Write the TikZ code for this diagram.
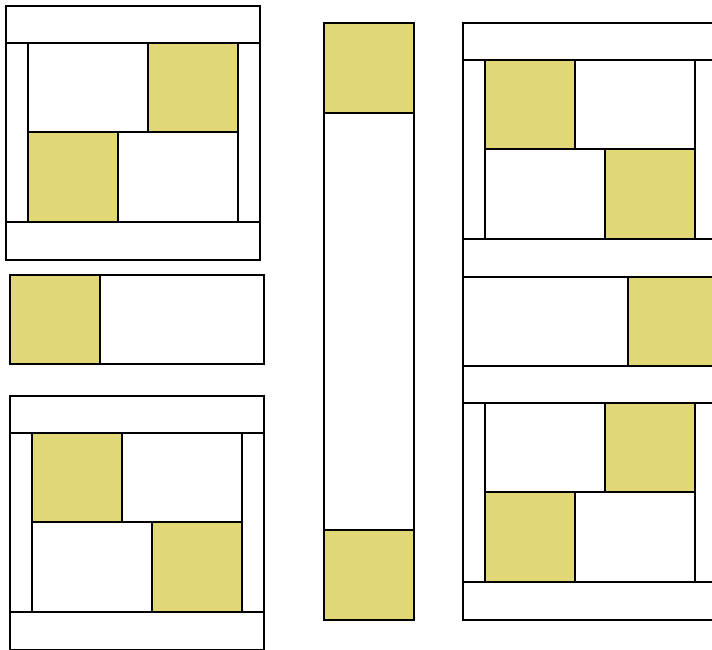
\documentclass[tikz,border=0pt]{standalone}
\usepackage{tikz}

\definecolor{quiltgold}{RGB}{226,215,118}

\begin{document}
\begin{tikzpicture}[
  x=0.02cm, y=-0.02cm,
  % Patch styles
  plain/.style={draw=black, fill=white, line width=1.3pt},
  gold/.style={draw=black, fill=quiltgold, line width=1.3pt},
  % Frame of a block: bars on top and bottom, narrow columns at the sides
  frame/.pic={
    \draw[plain] (0,0) rectangle (254,37);
    \draw[plain] (0,37) rectangle (22,216);
    \draw[plain] (232,37) rectangle (254,216);
    \draw[plain] (0,216) rectangle (254,254);
  },
  % Block with the gold squares on the falling diagonal
  blockfall/.pic={
    \pic {frame};
    \draw[gold]  (22,37)   rectangle (112,126);
    \draw[plain] (112,37)  rectangle (232,126);
    \draw[plain] (22,126)  rectangle (142,216);
    \draw[gold]  (142,126) rectangle (232,216);
  },
  % Block with the gold squares on the rising diagonal
  blockrise/.pic={
    \pic {frame};
    \draw[plain] (22,37)   rectangle (142,126);
    \draw[gold]  (142,37)  rectangle (232,126);
    \draw[gold]  (22,126)  rectangle (112,216);
    \draw[plain] (112,126) rectangle (232,216);
  },
]

\useasboundingbox (0,0) rectangle (712,649);
\clip (0,0) rectangle (712,649);

% --- Left column ---
\pic at (6,6) {blockrise};
\draw[gold]  (10,275)  rectangle (100,364);
\draw[plain] (100,275) rectangle (264,364);
\pic at (10,396) {blockfall};

% --- Middle strip ---
\draw[gold]  (324,23)  rectangle (414,113);
\draw[plain] (324,113) rectangle (414,530);
\draw[gold]  (324,530) rectangle (414,620);

% --- Right column ---
\pic at (463,23) {blockfall};
\draw[plain] (463,277) rectangle (628,366);
\draw[gold]  (628,277) rectangle (718,366);
\pic at (463,366) {blockrise};

\end{tikzpicture}
\end{document}
